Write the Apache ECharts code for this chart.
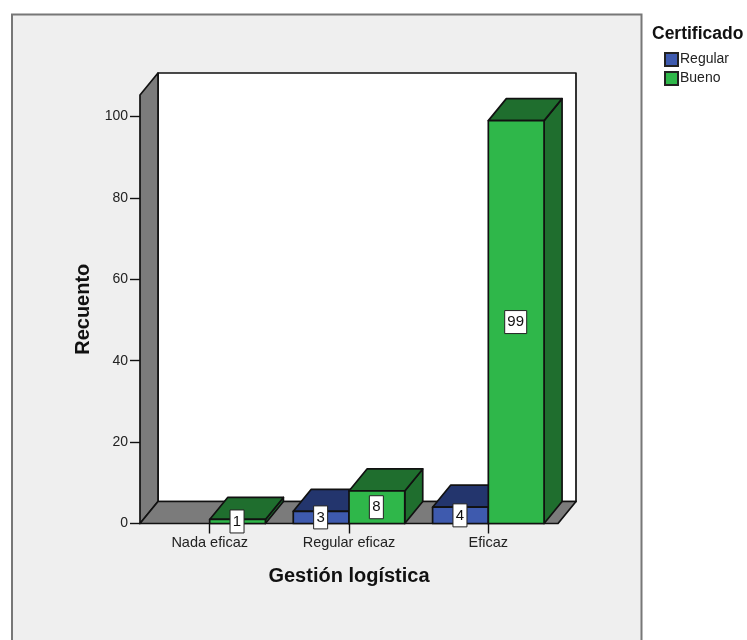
<!DOCTYPE html>
<html>
<head>
<meta charset="utf-8">
<style>html,body{margin:0;padding:0;background:#fff;overflow:hidden}#c{width:747px;height:640px}</style>
<script src="https://cdn.jsdelivr.net/npm/echarts@6/dist/echarts.min.js"></script>
</head>
<body>
<div id="c"></div>
<script>
const categories = ['Nada eficaz', 'Regular eficaz', 'Eficaz'];
const regular = [null, 3, 4];
const bueno = [1, 8, 99];
const yTicks = [0, 20, 40, 60, 80, 100];

const DX = 18, DY = -22, LINE = '#111';
const FONT = '"Liberation Sans", Arial, sans-serif';
const chart = echarts.init(document.getElementById('c'), null, {renderer: 'canvas'});

function poly(points, fill) {
  return {type: 'polygon', shape: {points}, style: {fill, stroke: LINE, lineWidth: 1.7, lineJoin: 'round'}};
}
function walls(params) {
  const c = params.coordSys;
  const l = c.x, r = c.x + c.width, t = c.y, b = c.y + c.height;
  const gray = '#7b7b7b';
  return {type: 'group', children: [
    poly([[l+DX,t+DY],[r+DX,t+DY],[r+DX,b+DY],[l+DX,b+DY]], '#ffffff'),
    poly([[l,b],[l+DX,b+DY],[l+DX,t+DY],[l,t]], gray),
    poly([[l,b],[r,b],[r+DX,b+DY],[l+DX,b+DY]], gray)
  ]};
}
function barRenderer(slot, front, top, side) {
  return function (params, api) {
    const v = api.value(1);
    if (v == null || isNaN(v)) return null;
    const cat = api.value(0);
    const base = api.coord([cat, 0]);
    const head = api.coord([cat, v]);
    const band = api.size([1, 0])[0];
    const w = band * 0.4;
    const x0 = base[0] + (slot === 0 ? -w : 0), x1 = x0 + w;
    const y0 = base[1], y1 = head[1];
    const text = String(v);
    const bw = text.length > 1 ? 22 : 14, bh = 23;
    const cx = (x0 + x1) / 2 - 0.5, cy = (y0 + y1) / 2;
    return {type: 'group', children: [
      poly([[x1,y0],[x1+DX,y0+DY],[x1+DX,y1+DY],[x1,y1]], side),
      poly([[x0,y1],[x1,y1],[x1+DX,y1+DY],[x0+DX,y1+DY]], top),
      poly([[x0,y0],[x1,y0],[x1,y1],[x0,y1]], front),
      {type: 'rect', shape: {x: cx-bw/2, y: cy-bh/2, width: bw, height: bh},
       style: {fill: '#fff', stroke: '#222', lineWidth: 1}},
      {type: 'text', style: {x: cx, y: cy, text, align: 'center', verticalAlign: 'middle',
        fill: '#111', font: '15px ' + FONT}}
    ]};
  };
}
chart.setOption({
  animation: false,
  backgroundColor: '#fff',
  textStyle: {fontFamily: FONT},
  graphic: [{type: 'rect', z: -10, shape: {x: 12, y: 14.5, width: 629.5, height: 640},
    style: {fill: '#efefef', stroke: '#777', lineWidth: 2}}],
  title: {text: 'Certificado', left: 652, top: 25, padding: 0,
    textStyle: {fontFamily: FONT, fontSize: 17.5, fontWeight: 'bold', color: '#111'}},
  legend: {
    orient: 'vertical', left: 664, top: 52, itemWidth: 13, itemHeight: 13, itemGap: 4, padding: 0,
    icon: 'rect', data: ['Regular', 'Bueno'],
    textStyle: {fontFamily: FONT, fontSize: 14, color: '#222', padding: [0,0,0,-3]}
  },
  grid: {left: 140, right: 189, top: 95, bottom: 116.5},
  xAxis: {
    type: 'category', data: categories, name: 'Gestión logística',
    nameLocation: 'middle', nameGap: 43,
    nameTextStyle: {fontFamily: FONT, fontSize: 20, fontWeight: 'bold', color: '#111'},
    axisLine: {show: false},
    axisTick: {show: true, alignWithLabel: true, length: 10, lineStyle: {color: LINE, width: 1.4}},
    axisLabel: {fontSize: 14.5, color: '#222', margin: 12, interval: 0}
  },
  yAxis: {
    type: 'value', min: 0, max: 105.3, name: 'Recuento',
    nameLocation: 'middle', nameGap: 47,
    nameTextStyle: {fontFamily: FONT, fontSize: 20, fontWeight: 'bold', color: '#111'},
    splitLine: {show: false},
    axisLine: {show: false},
    axisTick: {show: true, length: 10, customValues: yTicks, lineStyle: {color: LINE, width: 1.4}},
    axisLabel: {fontSize: 14, color: '#222', margin: 12, customValues: yTicks}
  },
  series: [
    {type: 'custom', name: 'walls', silent: true, clip: false, z: 1, renderItem: walls, data: [[0, 0]],
     encode: {x: 0, y: 1}},
    {type: 'custom', name: 'Regular', clip: false, z: 2,
     itemStyle: {color: '#3e5aae', borderColor: '#222', borderWidth: 1.2},
     renderItem: barRenderer(0, '#3e5aae', '#23356d', '#23356d'),
     data: regular.map((v, i) => [i, v]), encode: {x: 0, y: 1}},
    {type: 'custom', name: 'Bueno', clip: false, z: 3,
     itemStyle: {color: '#2fb74a', borderColor: '#222', borderWidth: 1.2},
     renderItem: barRenderer(1, '#2fb74a', '#1f6e2e', '#1f6e2e'),
     data: bueno.map((v, i) => [i, v]), encode: {x: 0, y: 1}}
  ]
});
</script>
</body>
</html>
